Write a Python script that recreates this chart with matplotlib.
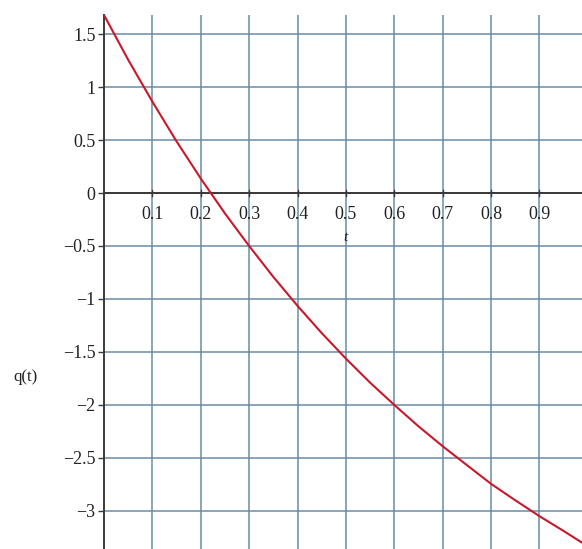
import numpy as np
from matplotlib import pyplot as plt

# values of q(t)
t = [0.0, 0.05, 0.1, 0.15, 0.2, 0.25, 0.3, 0.35, 0.4, 0.45, 0.5,
     0.55, 0.6, 0.65, 0.7, 0.75, 0.8, 0.85, 0.9, 0.95, 0.988]
q = [1.68, 1.257, 0.862, 0.487, 0.137, -0.193, -0.50, -0.792, -1.065, -1.322, -1.563,
     -1.79, -2.0, -2.202, -2.39, -2.568, -2.745, -2.90, -3.05, -3.19, -3.30]

xticks = [0.1, 0.2, 0.3, 0.4, 0.5, 0.6, 0.7, 0.8, 0.9]
xlabels = ['0.1', '0.2', '0.3', '0.4', '0.5', '0.6', '0.7', '0.8', '0.9']
yticks = [-3, -2.5, -2, -1.5, -1, -0.5, 0, 0.5, 1, 1.5]
ylabels = ['\u22123', '\u22122.5', '\u22122', '\u22121.5', '\u22121', '\u22120.5',
           '0', '0.5', '1', '1.5']

plt.rcParams['font.family'] = ['Liberation Serif', 'DejaVu Serif']

fig = plt.figure(figsize=(5.82, 5.49), dpi=100)
ax = fig.add_axes([104 / 582, 0.0, 1 - 104 / 582, 1 - 15 / 549])

ax.set_xlim(0, 0.988)
ax.set_ylim(-3.36, 1.68)

gridc = '#6a8ba6'
for x in xticks:
    ax.axvline(x, color=gridc, lw=1.1, zorder=1)
for y in yticks:
    ax.axhline(y, color=gridc, lw=1.1, zorder=1)

ax.plot(t, q, color='#c8182a', lw=1.5, zorder=3)

# axes through the origin
for s in ['top', 'right', 'bottom']:
    ax.spines[s].set_visible(False)
ax.spines['left'].set_color('#3a3a3a')
ax.spines['left'].set_linewidth(1.4)
ax.axhline(0, color='#3a3a3a', lw=1.4, zorder=2)

ax.set_yticks(yticks)
ax.set_yticklabels(ylabels)
ax.tick_params(axis='y', direction='out', length=4, width=1, color='#3a3a3a',
               labelsize=13, labelcolor='#222222', pad=2)
ax.set_xticks([])

for x, lab in zip(xticks, xlabels):
    ax.plot([x, x], [-0.03, 0.03], color='#3a3a3a', lw=1, zorder=2)
    ax.text(x, -0.2, lab, ha='center', va='center', fontsize=13, color='#222222')

ax.text(0.5, -0.42, 't', ha='center', va='center', fontsize=11, style='italic',
        color='#222222')
fig.text(26 / 582, 1 - 377 / 549, 'q(t)', ha='center', va='center', fontsize=12,
         color='#222222')

fig.savefig('out.png', dpi=100)
